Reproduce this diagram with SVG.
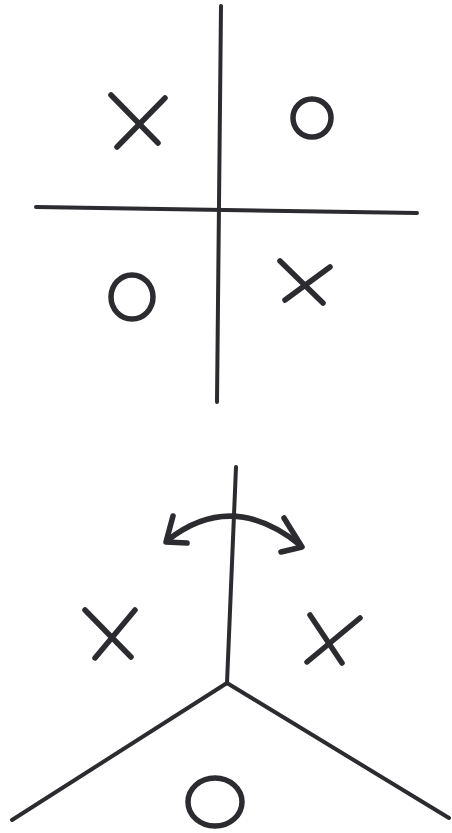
<svg xmlns="http://www.w3.org/2000/svg" width="452" height="833" viewBox="0 0 452 833">
<style>
.ln{stroke:#2b2b30;stroke-width:4;stroke-linecap:round;fill:none}
.mk{stroke:#2b2b30;stroke-width:5.5;stroke-linecap:round;stroke-linejoin:round;fill:none}
</style>
<rect width="452" height="833" fill="#ffffff"/>
<g id="connectors">
<line class="ln" x1="221" y1="6" x2="217" y2="402"/>
<line class="ln" x1="36" y1="207" x2="417" y2="213"/>
<line class="ln" x1="236" y1="467" x2="227" y2="683"/>
<line class="ln" x1="227" y1="683" x2="12" y2="820"/>
<line class="ln" x1="227" y1="683" x2="449" y2="818"/>
<path class="mk" d="M168 540 Q232 490 300 545"/>
<path class="mk" d="M173 516 L166 542 L187 543"/>
<path class="mk" d="M284 518 L302 547 L281 552"/>
</g>
<g id="x-top-left"><line class="mk" x1="111" y1="95" x2="158" y2="143"/><line class="mk" x1="165" y1="98" x2="117" y2="147"/></g>
<g id="o-top-right"><ellipse class="mk" cx="312" cy="118" rx="19" ry="19"/></g>
<g id="o-bottom-left"><ellipse class="mk" cx="132" cy="297" rx="21" ry="22"/></g>
<g id="x-bottom-right"><line class="mk" x1="280" y1="261" x2="323" y2="303"/><line class="mk" x1="330" y1="267" x2="285" y2="300"/></g>
<g id="x-lower-left"><line class="mk" x1="85" y1="610" x2="131" y2="657"/><line class="mk" x1="135" y1="610" x2="95" y2="658"/></g>
<g id="x-lower-right"><line class="mk" x1="310" y1="615" x2="342" y2="663"/><line class="mk" x1="360" y1="618" x2="307" y2="662"/></g>
<g id="o-lower-bottom"><ellipse class="mk" cx="215" cy="802" rx="27" ry="24"/></g>
</svg>
